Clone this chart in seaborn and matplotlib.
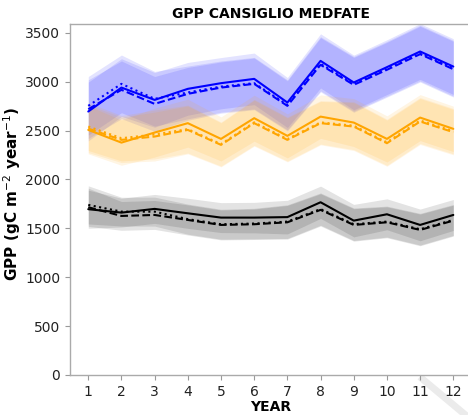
import numpy as np
import pandas as pd
import matplotlib
matplotlib.use("Agg")
import matplotlib.pyplot as plt
import seaborn as sns
from matplotlib.lines import Line2D

sns.set_style("white")
plt.rcParams['font.family'] = ['DejaVu Sans']

years = list(range(1, 13))

# Blue group
blue_solid  = [2695, 2940, 2814, 2927, 2985, 3029, 2787, 3213, 2992, 3149, 3309, 3155]
blue_dashed = [2719, 2917, 2773, 2876, 2940, 2978, 2753, 3173, 2968, 3122, 3282, 3128]
blue_dotted = [2753, 2978, 2825, 2890, 2950, 2985, 2763, 3183, 2978, 3132, 3292, 3138]
blue_sd     = [300, 295, 280, 270, 262, 264, 256, 277, 280, 280, 285, 285]

# Orange group
orange_solid  = [2507, 2377, 2480, 2576, 2415, 2627, 2446, 2643, 2582, 2415, 2633, 2518]
orange_dashed = [2520, 2405, 2439, 2507, 2354, 2576, 2405, 2576, 2541, 2371, 2593, 2484]
orange_dotted = [2541, 2422, 2460, 2515, 2362, 2584, 2413, 2584, 2550, 2380, 2603, 2494]
orange_sd     = [245, 232, 250, 245, 225, 235, 225, 222, 245, 236, 235, 232]

# Black group
black_solid  = [1696, 1661, 1699, 1654, 1610, 1610, 1615, 1767, 1579, 1644, 1535, 1637]
black_dashed = [1716, 1627, 1637, 1586, 1535, 1542, 1562, 1689, 1535, 1562, 1484, 1579]
black_dotted = [1740, 1671, 1671, 1594, 1542, 1549, 1569, 1697, 1542, 1569, 1491, 1586]
black_sd     = [195, 147, 148, 154, 153, 156, 172, 165, 166, 158, 162, 158]

groups = [
    ("blue", blue_solid, blue_dashed, blue_dotted, blue_sd),
    ("orange", orange_solid, orange_dashed, orange_dotted, orange_sd),
    ("black", black_solid, black_dashed, black_dotted, black_sd),
]

fig = plt.figure(figsize=(4.68, 4.15), dpi=100)
ax = fig.add_axes([0.1496, 0.0964, 0.858, 0.8457])

# watermark-like diagonal stroke
fig.add_artist(Line2D([0.897, 1.0], [0.092, -0.005], transform=fig.transFigure,
                      color="#ebebeb", lw=5, zorder=0, solid_capstyle="butt"))
fig.add_artist(Line2D([0.988, 1.0], [0.195, 0.178], transform=fig.transFigure,
                      color="#ebebeb", lw=5, zorder=0, solid_capstyle="butt"))

yr = np.array(years)
for color, s, d, t, sd in groups:
    sd = np.array(sd)
    for vals in (s, d, t):
        v = np.array(vals)
        ax.fill_between(yr, v - sd, v + sd, color=color, alpha=0.11, lw=0)
    for vals, ls in ((s, "-"), (d, "--"), (t, ":")):
        df = pd.DataFrame({"YEAR": years, "GPP": vals})
        sns.lineplot(data=df, x="YEAR", y="GPP", color=color, linestyle=ls,
                     lw=1.5, ax=ax)

ax.set_xlim(0.45, 12.55)
ax.set_ylim(0, 3590)
ax.set_xticks(years)
ax.set_yticks(range(0, 3501, 500))
ax.tick_params(axis="both", labelsize=10, length=3.5, width=0.8,
               color="#999999", labelcolor="#222222", bottom=True, left=True)
for sp in ax.spines.values():
    sp.set_color("#aaaaaa")
    sp.set_linewidth(1.0)

ax.set_title("GPP CANSIGLIO MEDFATE", fontsize=10, fontweight="bold", pad=4,
             color="black")
ax.set_xlabel("YEAR", fontsize=10, fontweight="bold", labelpad=1, color="black")
ax.set_ylabel(r"GPP (gC m$^{-2}$ year$^{-1}$)", fontsize=11,
              fontweight="bold", color="black")
ax.yaxis.set_label_coords(-0.118, 0.515)

fig.savefig("out.png", dpi=100)
